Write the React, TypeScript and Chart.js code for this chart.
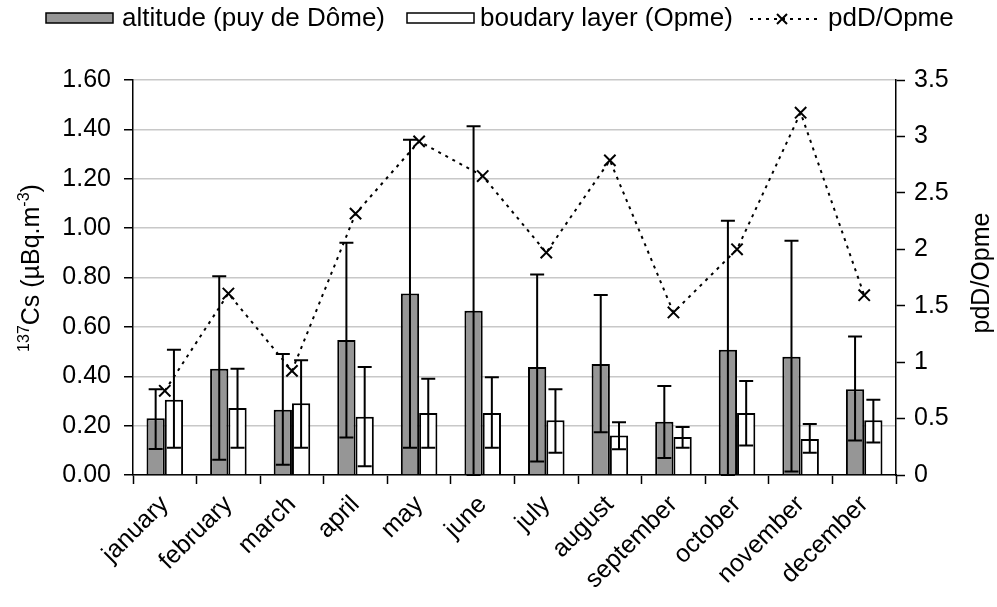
import React, { useEffect, useRef } from "react";
import { Chart, registerables } from "chart.js";

Chart.register(...registerables);

const months = ["january", "february", "march", "april", "may", "june", "july", "august", "september", "october", "november", "december"];
const altitude = [0.23, 0.43, 0.264, 0.547, 0.735, 0.665, 0.437, 0.45, 0.216, 0.507, 0.479, 0.347];
const altitudeLow = [0.105, 0.062, 0.042, 0.152, 0.11, 0.0, 0.055, 0.173, 0.069, 0.0, 0.014, 0.14];
const altitudeHigh = [0.347, 0.805, 0.49, 0.941, 1.358, 1.413, 0.812, 0.729, 0.361, 1.03, 0.949, 0.561];
const boundary = [0.305, 0.271, 0.291, 0.236, 0.251, 0.251, 0.222, 0.16, 0.154, 0.251, 0.146, 0.222];
const boundaryLow = [0.11, 0.11, 0.11, 0.035, 0.11, 0.11, 0.09, 0.104, 0.11, 0.119, 0.09, 0.132];
const boundaryHigh = [0.507, 0.43, 0.465, 0.437, 0.39, 0.396, 0.347, 0.214, 0.194, 0.381, 0.207, 0.305];
const ratio = [0.746, 1.608, 0.923, 2.316, 2.956, 2.649, 1.971, 2.788, 1.44, 2.0, 3.21, 1.593];

const legendLabels = ["altitude (puy de Dôme)", "boudary layer (Opme)", "pdD/Opme"];
const rightTitle = "pdD/Opme";

const FONT = "'Liberation Sans', Arial, sans-serif";
const FS = 25;
const GRAY = "#969696";

const errorRanges: Record<number, { low: number[]; high: number[] }> = {
  1: { low: altitudeLow, high: altitudeHigh },
  2: { low: boundaryLow, high: boundaryHigh },
};

const customPlugin = {
  id: "custom",
  afterDatasetDraw(chart: any, args: any) {
    const r = errorRanges[args.index];
    if (!r) return;
    const ctx = chart.ctx;
    const y = chart.scales.y;
    const meta = chart.getDatasetMeta(args.index);
    ctx.save();
    ctx.strokeStyle = "#000";
    ctx.lineWidth = 2;
    ctx.setLineDash([]);
    meta.data.forEach((bar: any, i: number) => {
      const x = bar.x;
      const yh = y.getPixelForValue(r.high[i]);
      const yl = y.getPixelForValue(r.low[i]);
      const cw = 7;
      ctx.beginPath();
      ctx.moveTo(x, yh);
      ctx.lineTo(x, yl);
      ctx.moveTo(x - cw, yh);
      ctx.lineTo(x + cw, yh);
      ctx.moveTo(x - cw, yl);
      ctx.lineTo(x + cw, yl);
      ctx.stroke();
    });
    ctx.restore();
  },
  afterDraw(chart: any) {
    const ctx = chart.ctx;
    ctx.save();
    ctx.fillStyle = "#000";
    ctx.textBaseline = "middle";
    ctx.font = `26px ${FONT}`;
    const ly = 19;
    // legend item 1
    ctx.fillStyle = GRAY;
    ctx.fillRect(46, 13, 67, 10);
    ctx.strokeStyle = "#000";
    ctx.lineWidth = 1.5;
    ctx.strokeRect(46, 13, 67, 10);
    ctx.fillStyle = "#000";
    ctx.textAlign = "left";
    ctx.fillText(legendLabels[0], 122, ly);
    // legend item 2
    ctx.fillStyle = "#fff";
    ctx.fillRect(407, 13, 67, 10);
    ctx.strokeRect(407, 13, 67, 10);
    ctx.fillStyle = "#000";
    ctx.fillText(legendLabels[1], 480, ly);
    // legend item 3
    ctx.lineWidth = 2;
    ctx.setLineDash([3, 5]);
    ctx.beginPath();
    ctx.moveTo(750, ly);
    ctx.lineTo(817, ly);
    ctx.stroke();
    ctx.setLineDash([]);
    ctx.beginPath();
    ctx.moveTo(777, ly - 5);
    ctx.lineTo(787, ly + 5);
    ctx.moveTo(777, ly + 5);
    ctx.lineTo(787, ly - 5);
    ctx.stroke();
    ctx.fillText(legendLabels[2], 828, ly);

    // left axis title with superscripts
    const parts = [
      { t: "137", sup: true },
      { t: "Cs (µBq.m", sup: false },
      { t: "-3", sup: true },
      { t: ")", sup: false },
    ];
    const big = `${FS}px ${FONT}`;
    const small = `${Math.round(FS * 0.65)}px ${FONT}`;
    let total = 0;
    parts.forEach((p) => {
      ctx.font = p.sup ? small : big;
      total += ctx.measureText(p.t).width;
    });
    ctx.save();
    ctx.translate(30, 268);
    ctx.rotate(-Math.PI / 2);
    ctx.textAlign = "left";
    ctx.textBaseline = "alphabetic";
    let x = -total / 2;
    const base = 9;
    parts.forEach((p) => {
      ctx.font = p.sup ? small : big;
      ctx.fillText(p.t, x, p.sup ? base - 10 : base);
      x += ctx.measureText(p.t).width;
    });
    ctx.restore();

    // right axis title
    ctx.save();
    ctx.font = big;
    ctx.translate(982, 273);
    ctx.rotate(-Math.PI / 2);
    ctx.textAlign = "center";
    ctx.textBaseline = "middle";
    ctx.fillText(rightTitle, 0, 0);
    ctx.restore();
    ctx.restore();
  },
};

export default function App() {
  const ref = useRef<HTMLCanvasElement | null>(null);
  useEffect(() => {
    if (!ref.current) return;
    const chart = new Chart(ref.current, {
      type: "bar",
      data: {
        labels: months,
        datasets: [
          {
            type: "line",
            label: legendLabels[2],
            data: ratio,
            yAxisID: "y1",
            borderColor: "#000",
            borderWidth: 2,
            borderDash: [3, 5],
            pointStyle: "crossRot",
            pointRadius: 8,
            pointBorderWidth: 2,
            pointBorderColor: "#000",
            pointBackgroundColor: "#000",
            fill: false,
            tension: 0,
            order: 0,
          } as any,
          {
            label: legendLabels[0],
            data: altitude,
            yAxisID: "y",
            backgroundColor: GRAY,
            borderColor: "#000",
            borderWidth: 2,
            categoryPercentage: 0.575,
            barPercentage: 1,
            order: 1,
          },
          {
            label: legendLabels[1],
            data: boundary,
            yAxisID: "y",
            backgroundColor: "#fff",
            borderColor: "#000",
            borderWidth: 2,
            categoryPercentage: 0.575,
            barPercentage: 1,
            order: 1,
          },
        ],
      },
      options: {
        responsive: false,
        animation: false,
        devicePixelRatio: 1,
        layout: { padding: { top: 80, left: 0, right: 0, bottom: 0 } },
        plugins: { legend: { display: false }, tooltip: { enabled: false } },
        scales: {
          x: {
            offset: true,
            grid: { display: true, drawOnChartArea: false, drawTicks: true, tickLength: 9, tickColor: "#000", tickWidth: 1.5, offset: true },
            border: { color: "#000", width: 1.5 },
            ticks: { color: "#000", font: { family: FONT, size: FS }, minRotation: 45, maxRotation: 45, padding: 6, autoSkip: false },
            afterFit: (s: any) => { s.height = 132; },
          },
          y: {
            position: "left",
            min: 0,
            max: 1.6,
            ticks: { stepSize: 0.2, color: "#000", font: { family: FONT, size: FS }, padding: 13, callback: (v: any) => Number(v).toFixed(2) },
            grid: { color: "#c8c8c8", lineWidth: 1.5, tickColor: "#000", tickLength: 9, tickWidth: 1.5 },
            border: { color: "#000", width: 1.5 },
            afterFit: (s: any) => { s.width = 133; },
          },
          y1: {
            position: "right",
            min: 0,
            max: 3.5,
            ticks: { stepSize: 0.5, color: "#000", font: { family: FONT, size: FS }, padding: 9, callback: (v: any) => String(Math.round(Number(v) * 10) / 10) },
            grid: { drawOnChartArea: false, tickColor: "#000", tickLength: 9, tickWidth: 1.5 },
            border: { color: "#000", width: 1.5 },
            afterFit: (s: any) => { s.width = 101; },
          },
        },
      },
      plugins: [customPlugin],
    });
    return () => chart.destroy();
  }, []);
  return (
    <div style={{ position: "absolute", left: 0, top: 0, width: 997, height: 607, background: "#fff" }}>
      <canvas ref={ref} width={997} height={607} style={{ display: "block" }} />
    </div>
  );
}
